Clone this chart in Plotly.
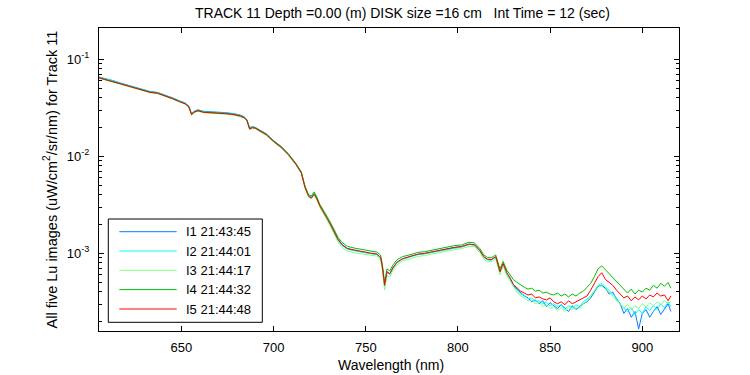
import plotly.graph_objects as go

# ---------------- data ----------------
wavelength = [605, 609, 613, 617, 621, 625, 629, 633, 637, 641,
              645, 649, 652, 654, 655.5, 657, 659, 662, 666, 670,
              674, 678, 682, 684, 685.5, 687, 688.5, 690, 693, 696,
              700, 704, 708, 712, 715, 717, 719, 720.5, 722, 723.5,
              725, 727, 729, 731, 733, 735, 737, 740, 744, 748,
              752, 756, 758, 759, 760.2, 761.5, 763, 765, 767, 770,
              774, 778, 782, 786, 790, 794, 798, 802, 806, 809,
              812, 814, 816, 818, 820.5, 822.8, 824.5, 826.5, 828.5,
              830, 832, 834, 836, 838, 840, 842, 844, 846, 848,
              850, 852, 854, 856, 858, 860, 862, 864, 866, 868,
              870, 872, 874, 876, 878, 880, 882, 884, 886, 888,
              890, 892, 894, 896, 898, 900, 902, 904, 906, 908,
              910, 912, 914, 915.5]

series_names = ["I1 21:43:45", "I2 21:44:01", "I3 21:44:17", "I4 21:44:32", "I5 21:44:48"]

i1 = [0.0659, 0.0632, 0.0603, 0.0569, 0.0542, 0.0514, 0.0490, 0.0466, 0.0456, 0.0430,
      0.0402, 0.0373, 0.0355, 0.0330, 0.0276, 0.0292, 0.0302, 0.0291, 0.0289, 0.0285,
      0.0282, 0.0276, 0.0266, 0.0256, 0.0240, 0.0197, 0.0202, 0.0199, 0.0183, 0.0171,
      0.0145, 0.0127, 0.0106, 0.00850, 0.00690, 0.00490, 0.00392, 0.00378, 0.00412, 0.00369,
      0.00315, 0.00274, 0.00233, 0.00199, 0.00165, 0.00140, 0.00124, 0.00112, 0.00107, 0.00103,
      0.00100, 0.000975, 0.000905, 0.000720, 0.000470, 0.000640, 0.000612, 0.000718, 0.000806, 0.000875,
      0.000918, 0.000975, 0.000995, 0.00103, 0.00108, 0.00111, 0.00115, 0.00117, 0.00124, 0.00122,
      0.00106, 0.000915, 0.000862, 0.000855, 0.000915, 0.000650, 0.000780, 0.000625, 0.000540,
      0.000468, 0.000427, 0.000389, 0.000363, 0.000347, 0.000316, 0.000331, 0.000302, 0.000324, 0.000282,
      0.000309, 0.000288, 0.000269, 0.000295, 0.000275, 0.000251, 0.000288, 0.000263, 0.000282, 0.000302,
      0.000316, 0.000347, 0.000398, 0.000457, 0.000468, 0.000437, 0.000380, 0.000398, 0.000339, 0.000302,
      0.000240, 0.000269, 0.000219, 0.000251, 0.000166, 0.000240, 0.000263, 0.000219, 0.000251, 0.000282,
      0.000234, 0.000269, 0.000302, 0.000251]

i2 = [0.0653, 0.0626, 0.0598, 0.0564, 0.0536, 0.0509, 0.0486, 0.0462, 0.0451, 0.0426,
      0.0398, 0.0370, 0.0352, 0.0327, 0.0272, 0.0288, 0.0298, 0.0287, 0.0285, 0.0281,
      0.0278, 0.0273, 0.0263, 0.0253, 0.0236, 0.0193, 0.0199, 0.0197, 0.0181, 0.0169,
      0.0143, 0.0125, 0.0105, 0.00840, 0.00683, 0.00484, 0.00389, 0.00376, 0.00411, 0.00367,
      0.00312, 0.00272, 0.00231, 0.00197, 0.00164, 0.00137, 0.00121, 0.00110, 0.00106, 0.00102,
      0.000998, 0.000972, 0.000900, 0.000712, 0.000458, 0.000635, 0.000605, 0.000712, 0.000800, 0.000870,
      0.000912, 0.000965, 0.000988, 0.00102, 0.00107, 0.00110, 0.00113, 0.00116, 0.00123, 0.00121,
      0.00105, 0.000910, 0.000858, 0.000850, 0.000910, 0.000638, 0.000775, 0.000620, 0.000538,
      0.000457, 0.000417, 0.000380, 0.000372, 0.000339, 0.000347, 0.000316, 0.000324, 0.000302, 0.000316,
      0.000288, 0.000302, 0.000282, 0.000295, 0.000263, 0.000288, 0.000275, 0.000295, 0.000282, 0.000316,
      0.000339, 0.000363, 0.000407, 0.000468, 0.000490, 0.000447, 0.000417, 0.000380, 0.000347, 0.000295,
      0.000275, 0.000251, 0.000275, 0.000234, 0.000263, 0.000240, 0.000282, 0.000257, 0.000288, 0.000263,
      0.000302, 0.000275, 0.000316, 0.000282]

i3 = [0.0640, 0.0613, 0.0586, 0.0553, 0.0526, 0.0499, 0.0476, 0.0452, 0.0443, 0.0418,
      0.0390, 0.0362, 0.0345, 0.0321, 0.0266, 0.0282, 0.0292, 0.0281, 0.0279, 0.0275,
      0.0272, 0.0267, 0.0257, 0.0248, 0.0232, 0.0189, 0.0195, 0.0193, 0.0177, 0.0165,
      0.0140, 0.0123, 0.0102, 0.00820, 0.00665, 0.00470, 0.00378, 0.00364, 0.00396, 0.00354,
      0.00300, 0.00260, 0.00220, 0.00186, 0.00154, 0.00130, 0.00115, 0.00105, 0.00101, 0.000985,
      0.000960, 0.000935, 0.000860, 0.000670, 0.000420, 0.000590, 0.000570, 0.000680, 0.000765, 0.000835,
      0.000875, 0.000925, 0.000950, 0.000985, 0.00103, 0.00106, 0.00109, 0.00112, 0.00118, 0.00117,
      0.00101, 0.000870, 0.000820, 0.000815, 0.000870, 0.000600, 0.000745, 0.000590, 0.000510,
      0.000447, 0.000398, 0.000363, 0.000347, 0.000324, 0.000331, 0.000302, 0.000316, 0.000282, 0.000295,
      0.000269, 0.000282, 0.000257, 0.000275, 0.000251, 0.000275, 0.000263, 0.000282, 0.000269, 0.000302,
      0.000324, 0.000363, 0.000407, 0.000468, 0.000457, 0.000427, 0.000398, 0.000363, 0.000324, 0.000302,
      0.000275, 0.000295, 0.000263, 0.000288, 0.000269, 0.000302, 0.000282, 0.000309, 0.000288, 0.000316,
      0.000295, 0.000324, 0.000302, 0.000316]

i4 = [0.0648, 0.0621, 0.0594, 0.0560, 0.0533, 0.0506, 0.0483, 0.0459, 0.0449, 0.0424,
      0.0396, 0.0368, 0.0350, 0.0326, 0.0272, 0.0287, 0.0297, 0.0286, 0.0284, 0.0280,
      0.0277, 0.0272, 0.0262, 0.0252, 0.0236, 0.0193, 0.0199, 0.0197, 0.0181, 0.0169,
      0.0144, 0.0126, 0.0106, 0.00845, 0.00690, 0.00495, 0.00400, 0.00390, 0.00430, 0.00380,
      0.00322, 0.00282, 0.00240, 0.00205, 0.00172, 0.00146, 0.00130, 0.00118, 0.00113, 0.00109,
      0.00106, 0.00103, 0.000960, 0.000770, 0.000500, 0.000690, 0.000660, 0.000770, 0.000860, 0.000925,
      0.000965, 0.00102, 0.00104, 0.00108, 0.00113, 0.00116, 0.00120, 0.00122, 0.00130, 0.00128,
      0.00111, 0.000965, 0.000905, 0.000900, 0.000960, 0.000690, 0.000825, 0.000670, 0.000590,
      0.000537, 0.000501, 0.000468, 0.000447, 0.000427, 0.000437, 0.000407, 0.000417, 0.000389, 0.000398,
      0.000380, 0.000372, 0.000389, 0.000363, 0.000380, 0.000355, 0.000380, 0.000363, 0.000389, 0.000407,
      0.000447, 0.000490, 0.000575, 0.000692, 0.000741, 0.000676, 0.000617, 0.000562, 0.000513, 0.000457,
      0.000417, 0.000389, 0.000427, 0.000380, 0.000417, 0.000398, 0.000437, 0.000417, 0.000468, 0.000437,
      0.000490, 0.000457, 0.000501, 0.000437]

i5 = [0.0646, 0.0619, 0.0592, 0.0558, 0.0531, 0.0504, 0.0481, 0.0457, 0.0447, 0.0422,
      0.0394, 0.0366, 0.0348, 0.0324, 0.0269, 0.0285, 0.0295, 0.0284, 0.0282, 0.0278,
      0.0275, 0.0270, 0.0260, 0.0250, 0.0234, 0.0191, 0.0197, 0.0195, 0.0179, 0.0167,
      0.0142, 0.0124, 0.0104, 0.00832, 0.00676, 0.00479, 0.00385, 0.00372, 0.00407, 0.00363,
      0.00309, 0.00269, 0.00229, 0.00195, 0.00162, 0.00138, 0.00123, 0.00112, 0.00108, 0.00104,
      0.00101, 0.000984, 0.000912, 0.000724, 0.000468, 0.000646, 0.000617, 0.000724, 0.000813, 0.000881,
      0.000923, 0.000977, 0.00100, 0.001035, 0.001081, 0.001109, 0.001148, 0.001175, 0.001245, 0.001225,
      0.001059, 0.000923, 0.000871, 0.000861, 0.000923, 0.000646, 0.000785, 0.000631, 0.000550,
      0.000479, 0.000437, 0.000407, 0.000389, 0.000372, 0.000380, 0.000347, 0.000355, 0.000339, 0.000331,
      0.000347, 0.000316, 0.000302, 0.000316, 0.000295, 0.000324, 0.000302, 0.000316, 0.000331, 0.000347,
      0.000363, 0.000417, 0.000490, 0.000575, 0.000631, 0.000537, 0.000501, 0.000468, 0.000417, 0.000380,
      0.000347, 0.000363, 0.000324, 0.000355, 0.000331, 0.000363, 0.000339, 0.000372, 0.000355, 0.000389,
      0.000363, 0.000372, 0.000324, 0.000363]

x_ticks = [650, 700, 750, 800, 850, 900]
y_ticks = [1e-3, 1e-2, 1e-1]
y_tick_labels = ["10<sup>-3</sup>", "10<sup>-2</sup>", "10<sup>-1</sup>"]
y_minor_ticks = [2e-4, 3e-4, 4e-4, 5e-4, 6e-4, 7e-4, 8e-4, 9e-4,
                 2e-3, 3e-3, 4e-3, 5e-3, 6e-3, 7e-3, 8e-3, 9e-3,
                 2e-2, 3e-2, 4e-2, 5e-2, 6e-2, 7e-2, 8e-2, 9e-2]
colors = ["#0080FF", "#00FFFF", "#80FF80", "#00C000", "#FF0000"]

for s in (i1, i2, i3, i4, i5):
    assert len(s) == len(wavelength), (len(s), len(wavelength))

# ---------------- figure ----------------
W, H = 750, 375
L, R, T, B = 99, 71, 28, 44
pw, ph = W - L - R, H - T - B
FONT = "Liberation Sans, Arial, Helvetica, sans-serif"

def px2paper_x(px):
    return (px - L) / pw

def px2paper_y(py):
    return (H - B - py) / ph

fig = go.Figure()
for name, vals, col in zip(series_names, [i1, i2, i3, i4, i5], colors):
    fig.add_trace(go.Scatter(x=wavelength, y=vals, mode="lines", name=name,
                             line=dict(color=col, width=1), showlegend=False))

axis_common = dict(showline=True, linecolor="black", linewidth=1, mirror="ticks",
                   ticks="inside", tickcolor="black", ticklen=5, tickwidth=1,
                   showgrid=False, zeroline=False,
                   tickfont=dict(family=FONT, size=13, color="black"))

fig.update_xaxes(range=[605.3, 919.9], tickvals=x_ticks, ticklabelstandoff=4, **axis_common)
fig.update_yaxes(type="log", range=[-3.801, -0.677], tickvals=y_ticks, ticktext=y_tick_labels,
                 ticklabelstandoff=6,
                 minor=dict(ticks="inside", ticklen=3, tickcolor="black",
                            tickvals=y_minor_ticks, showgrid=False),
                 **axis_common)

annotations = [
    dict(text="TRACK 11 Depth =0.00 (m) DISK size =16 cm &nbsp; Int Time = 12 (sec)",
         x=px2paper_x(402), y=px2paper_y(13), xref="paper", yref="paper",
         xanchor="center", yanchor="middle", showarrow=False,
         font=dict(family=FONT, size=14, color="black")),
    dict(text="Wavelength (nm)", x=px2paper_x(391), y=px2paper_y(365), xref="paper", yref="paper",
         xanchor="center", yanchor="middle", showarrow=False,
         font=dict(family=FONT, size=14, color="black")),
    dict(text="All five Lu images (uW/cm<sup>2</sup>/sr/nm) for Track 11",
         x=px2paper_x(50), y=0.5, xref="paper", yref="paper", textangle=-90,
         xanchor="center", yanchor="middle", showarrow=False,
         font=dict(family=FONT, size=14.5, color="black")),
]

# legend box drawn inside the axes (MATLAB style)
shapes = [dict(type="rect", xref="paper", yref="paper",
               x0=px2paper_x(108.3), x1=px2paper_x(262.3),
               y0=px2paper_y(322.3), y1=px2paper_y(219),
               line=dict(color="black", width=1), fillcolor="white", layer="above")]
entry_y = [231.7, 251.0, 270.3, 289.6, 309.0]
for name, col, ey in zip(series_names, colors, entry_y):
    shapes.append(dict(type="line", xref="paper", yref="paper",
                       x0=px2paper_x(119.3), x1=px2paper_x(176.7),
                       y0=px2paper_y(ey), y1=px2paper_y(ey),
                       line=dict(color=col, width=1), layer="above"))
    annotations.append(dict(text=name, x=px2paper_x(184), y=px2paper_y(ey),
                            xref="paper", yref="paper", xanchor="left", yanchor="middle",
                            showarrow=False, font=dict(family=FONT, size=13, color="black")))

fig.update_layout(width=W, height=H, margin=dict(l=L, r=R, t=T, b=B, autoexpand=False),
                  paper_bgcolor="white", plot_bgcolor="white",
                  showlegend=False, annotations=annotations, shapes=shapes)

fig.write_html("out.html", config={"displayModeBar": False},
               post_script="document.body.style.margin='0';")
